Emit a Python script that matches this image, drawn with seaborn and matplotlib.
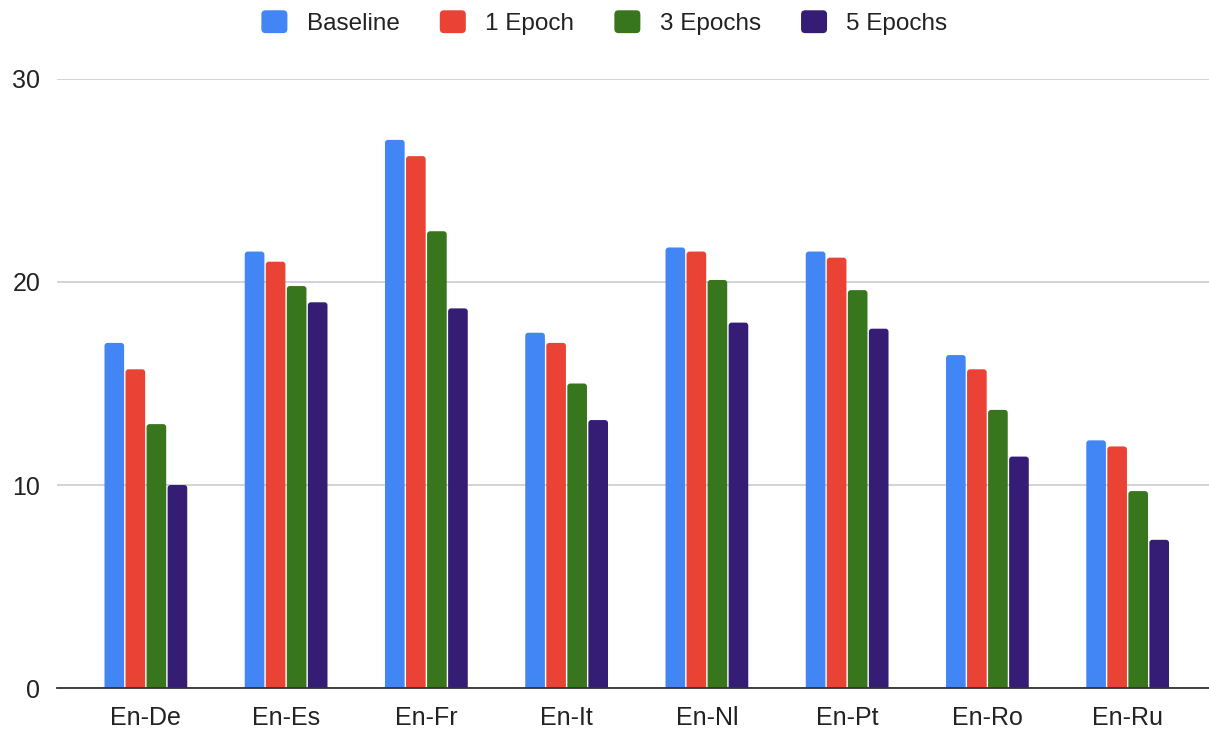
import matplotlib
matplotlib.use("Agg")
import matplotlib.pyplot as plt
from matplotlib.patches import Patch, FancyBboxPatch
from matplotlib.legend_handler import HandlerPatch
import seaborn as sns
import pandas as pd

pairs = ["En-De", "En-Es", "En-Fr", "En-It", "En-Nl", "En-Pt", "En-Ro", "En-Ru"]
series = ["Baseline", "1 Epoch", "3 Epochs", "5 Epochs"]
baseline = [17.0, 21.5, 27.0, 17.5, 21.7, 21.5, 16.4, 12.2]
epoch_1 = [15.7, 21.0, 26.2, 17.0, 21.5, 21.2, 15.7, 11.9]
epoch_3 = [13.0, 19.8, 22.5, 15.0, 20.1, 19.6, 13.7, 9.7]
epoch_5 = [10.0, 19.0, 18.7, 13.2, 18.0, 17.7, 11.4, 7.3]
colors = ["#4285F4", "#EA4335", "#38761D", "#351C75"]
y_ticks = [0, 10, 20, 30]

rows = []
for name, vals in zip(series, [baseline, epoch_1, epoch_3, epoch_5]):
    for p, v in zip(pairs, vals):
        rows.append({"pair": p, "series": name, "score": v})
df = pd.DataFrame(rows)

sns.set_theme(style="white")
plt.rcParams["font.family"] = ["Liberation Sans", "DejaVu Sans"]

fig = plt.figure(figsize=(12.09, 7.30), dpi=100)
ax = fig.add_axes([0.0471, 0.0575, 0.9529, 0.8343])

sns.barplot(data=df, x="pair", y="score", hue="series", order=pairs,
            hue_order=series, palette=colors, width=0.6, saturation=1,
            edgecolor="white", linewidth=1.2, legend=False, ax=ax, zorder=3)

ax.set_xlim(-0.634, 7.58)
ax.set_ylim(0, 30)
fig.canvas.draw()

# Swap the plain rectangles for ones with softly rounded tops
px_x = ax.transData.inverted().transform([(0, 0), (1, 1)])
ux = abs(px_x[1][0] - px_x[0][0])   # data units per pixel in x
uy = abs(px_x[1][1] - px_x[0][1])   # data units per pixel in y
radius_px = 3.0
for bar in list(ax.patches):
    x, y = bar.get_x(), bar.get_y()
    w, h = bar.get_width(), bar.get_height()
    fc = bar.get_facecolor()
    bar.set_visible(False)
    r = radius_px * ux
    rounded = FancyBboxPatch(
        (x + 0.7 * ux, y - radius_px * uy), w - 1.4 * ux, h + radius_px * uy,
        boxstyle=f"round,pad=0,rounding_size={r}",
        mutation_aspect=uy / ux, facecolor=fc, edgecolor="none", zorder=3)
    ax.add_patch(rounded)

ax.set_yticks(y_ticks)
ax.set_yticklabels([str(t) for t in y_ticks], fontsize=18, color="#222222")
ax.tick_params(axis="x", labelsize=18, colors="#222222", length=0, pad=13)
ax.tick_params(axis="y", length=0, pad=12)
ax.set_xlabel("")
ax.set_ylabel("")
ax.yaxis.grid(True, color="#cccccc", linewidth=1.2, zorder=0)
ax.set_axisbelow(True)
for side in ["top", "right", "left"]:
    ax.spines[side].set_visible(False)
ax.spines["bottom"].set_color("#333333")
ax.spines["bottom"].set_linewidth(1.3)
ax.spines["bottom"].set_zorder(4)


class RoundedSquare(HandlerPatch):
    def create_artists(self, legend, orig_handle, xdescent, ydescent,
                       width, height, fontsize, trans):
        p = FancyBboxPatch((-xdescent, -ydescent), width, height,
                           boxstyle="round,pad=0,rounding_size=3",
                           facecolor=orig_handle.get_facecolor(),
                           edgecolor="none", transform=trans)
        return [p]


handles = [Patch(facecolor=c, edgecolor="none", label=s) for c, s in zip(colors, series)]
fig.legend(handles=handles, loc="center", bbox_to_anchor=(0.5, 0.969),
           ncol=4, frameon=False, fontsize=17.5, handlelength=1.07,
           handleheight=1.07, handletextpad=0.8, columnspacing=1.65,
           labelcolor="#222222",
           handler_map={Patch: RoundedSquare()})

fig.savefig("out.png", dpi=100)
